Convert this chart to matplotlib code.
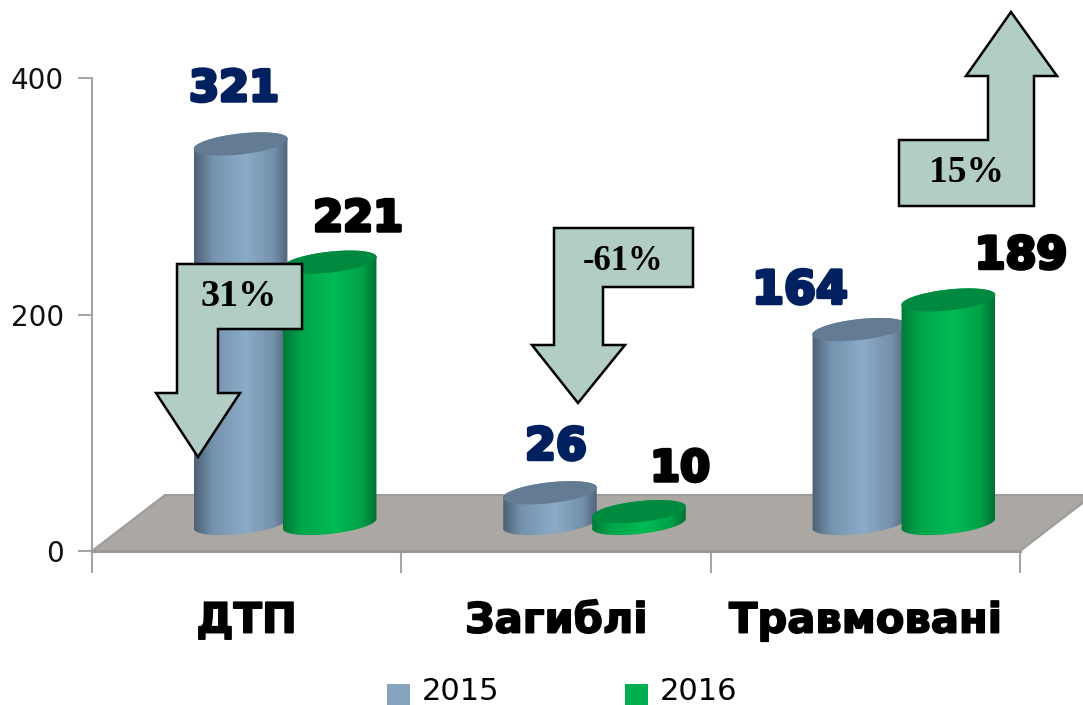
import numpy as np
import matplotlib
matplotlib.use('Agg')
import matplotlib.pyplot as plt
import matplotlib.patheffects as pe
from matplotlib.colors import LinearSegmentedColormap
from matplotlib.patches import Patch, PathPatch, Polygon
from matplotlib.path import Path

# Chart data
categories = ['ДТП', 'Загиблі', 'Травмовані']
series_names = ['2015', '2016']
values_2015 = [321, 26, 164]
values_2016 = [221, 10, 189]
y_ticks = [0, 200, 400]

# Free-floating callouts, outlines in image pixels
arrow_down_31 = [(177, 264), (302, 264), (302, 329), (218, 329), (218, 393), (240, 393),
                 (198, 457), (156, 393), (177, 393)]
arrow_down_61 = [(554, 228), (693, 228), (693, 287), (603, 287), (603, 345), (625, 345),
                 (578, 403), (532, 345), (554, 345)]
arrow_up_15 = [(899, 140), (988, 140), (988, 76), (966, 76), (1011, 12), (1057, 76),
               (1034, 76), (1034, 206), (899, 206)]

W, H = 1083, 705
LEFT, RIGHT, Y0, Y400 = 92, 1020, 551, 78
PX_X = 3 / (RIGHT - LEFT)     # data units per pixel
PX_Y = 400 / (Y0 - Y400)

blue_cmap = LinearSegmentedColormap.from_list(
    'blue', [(0, '#4d6074'), (0.2, '#7593ae'), (0.55, '#8cabc8'), (0.85, '#7390aa'), (1, '#52647a')])
green_cmap = LinearSegmentedColormap.from_list(
    'green', [(0, '#007a38'), (0.2, '#00a54a'), (0.55, '#00bb55'), (0.85, '#00a048'), (1, '#006f33')])

fig = plt.figure(figsize=(W / 100, H / 100), dpi=100)
ax = fig.add_axes([LEFT / W, 1 - Y0 / H, (RIGHT - LEFT) / W, (Y0 - Y400) / H])
ax.set_xlim(0, 3)
ax.set_ylim(0, 400)


def ellipse_xy(cx, cy, t):
    # slightly tilted ellipse, right end higher than the left one
    x = cx + 47 * PX_X * np.cos(t)
    y = cy + (10.5 * np.sin(t) + 5 * np.cos(t)) * PX_Y
    return x, y


def cylinder(cx, value, cmap, top_color, z):
    base = 27.5 * PX_Y
    top = value + base
    t1 = np.linspace(-0.1, np.pi - 0.1, 60)
    t2 = np.linspace(np.pi - 0.1, 2 * np.pi - 0.1, 60)
    xt, yt = ellipse_xy(cx, top, t1)
    xb, yb = ellipse_xy(cx, base, t2)
    outline = np.vstack([np.c_[xt, yt], np.c_[xb, yb], [[xt[0], yt[0]]]])
    body = PathPatch(Path(outline), facecolor='none', edgecolor='none', zorder=z)
    ax.add_patch(body)
    grad = np.linspace(0, 1, 256).reshape(1, -1)
    im = ax.imshow(grad, cmap=cmap, aspect='auto', zorder=z, interpolation='bilinear',
                   extent=[cx - 47 * PX_X, cx + 47 * PX_X, 0, top + 20 * PX_Y])
    im.set_clip_path(body)
    t = np.linspace(0, 2 * np.pi, 120)
    xe, ye = ellipse_xy(cx, top, t)
    ax.add_patch(Polygon(np.c_[xe, ye], closed=True, facecolor=top_color, edgecolor='none', zorder=z + 0.1))


# Floor of the 3D chart
floor_dx, floor_dy = 73 * PX_X, 56 * PX_Y
ax.add_patch(Polygon([(0, 0), (3, 0), (3 + floor_dx, floor_dy), (floor_dx, floor_dy)], closed=True,
                     facecolor='#aba7a3', edgecolor='#9c9c9c', lw=1.5, clip_on=False, zorder=1))

depth_x = 37 * PX_X
for i in range(len(categories)):
    c = i + 0.5 + depth_x
    cylinder(c - 43 * PX_X, values_2015[i], blue_cmap, '#637c94', 2 + i)
    cylinder(c + 46 * PX_X, values_2016[i], green_cmap, '#008a40', 2.5 + i)
ax.set_xlim(0, 3)
ax.set_ylim(0, 400)

# Axes
for s in ['top', 'right']:
    ax.spines[s].set_visible(False)
ax.spines['left'].set_color('#a6a6a6')
ax.spines['left'].set_linewidth(1.5)
ax.spines['bottom'].set_color('#9a9a9a')
ax.spines['bottom'].set_linewidth(2.2)
ax.patch.set_visible(False)
ax.set_yticks(y_ticks)
ax.tick_params(axis='y', length=10, width=1.5, color='#a6a6a6', labelsize=20, pad=10, labelcolor='#111111')
ax.set_xticks([0, 1, 2, 3])
ax.set_xticklabels([])
ax.tick_params(axis='x', which='major', length=16, width=1.5, color='#a6a6a6')
ax.set_xticks([0.5, 1.5, 2.5], minor=True)
ax.set_xticklabels(categories, minor=True, fontsize=30, fontweight='bold', color='black',
                   path_effects=[pe.withStroke(linewidth=1.2, foreground='black')])
ax.tick_params(axis='x', which='minor', length=0, pad=35)

# Legend
handles = [Patch(facecolor='#87a4bf', label=series_names[0]), Patch(facecolor='#00b050', label=series_names[1])]
leg = fig.legend(handles=handles, loc='lower left', bbox_to_anchor=(387 / W, -1 / H), ncol=2, frameon=False,
                 fontsize=22, handlelength=0.75, handleheight=0.7, handletextpad=0.4,
                 columnspacing=4.1, borderpad=0, borderaxespad=0)
for h in leg.legend_handles:
    h.set_y(h.get_y() - 4)

# Overlay in image pixels for the hand-placed labels and arrows
ov = fig.add_axes([0, 0, 1, 1], zorder=5)
ov.set_xlim(0, W)
ov.set_ylim(H, 0)
ov.axis('off')
for pts in [arrow_down_31, arrow_down_61, arrow_up_15]:
    ov.add_patch(Polygon(pts, closed=True, facecolor='#b2cdc5', edgecolor='black', lw=1.8, joinstyle='miter'))
ov.text(239, 296, '31%', family='Liberation Serif', fontweight='bold', fontsize=27.5, ha='center', va='center')
ov.text(623, 261, '-61%', family='Liberation Serif', fontweight='bold', fontsize=25, ha='center', va='center')
ov.text(966, 172, '15%', family='Liberation Serif', fontweight='bold', fontsize=27, ha='center', va='center')

navy = '#002060'
value_labels = [(values_2015[0], 234, 89, navy, 31), (values_2016[0], 358, 219, 'black', 31),
                (values_2015[1], 556, 447, navy, 32), (values_2016[1], 680, 469, 'black', 31),
                (values_2015[2], 800, 291, navy, 33), (values_2016[2], 1021, 256, 'black', 32)]
for val, x, y, col, size in value_labels:
    ov.text(x, y, str(val), color=col, fontsize=size, fontweight='bold', ha='center', va='center',
            path_effects=[pe.withStroke(linewidth=2.5, foreground=col)])

fig.savefig('out.png', dpi=100)
